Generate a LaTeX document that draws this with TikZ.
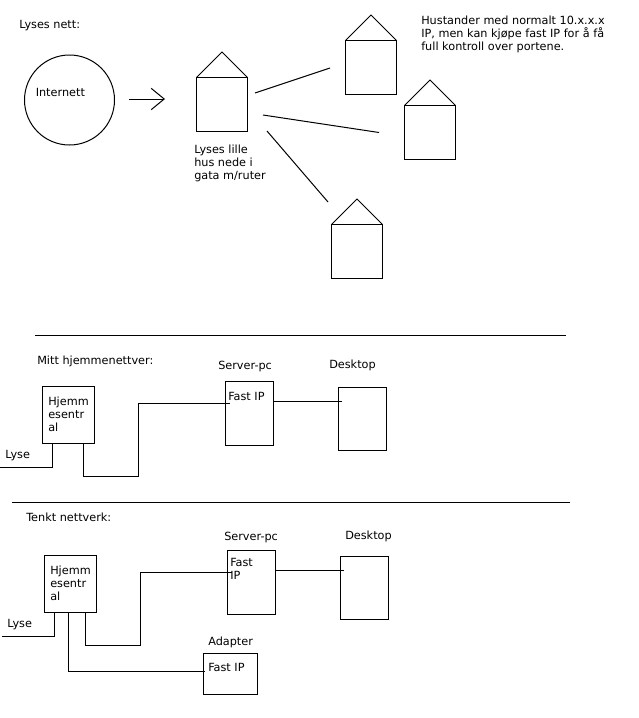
\documentclass[tikz,border=0pt]{standalone}
\usepackage{fontspec}
\setmainfont{DejaVu Sans}
\usetikzlibrary{arrows.meta, positioning}
\tikzset{
    wire/.style={line width=0.75pt, line join=miter},
    pil/.style={wire, -{Straight Barb[length=9.75pt,width=16pt]}},
    tekst/.style={anchor=west, inner sep=0pt, yshift=-1pt, align=left, font=\fontsize{8.45}{9.75}\selectfont},
    boks/.style={rectangle, draw, line width=0.75pt, outer sep=0pt, inner sep=0pt},
    hytte/.style={boks, minimum width=38.25pt, minimum height=40.5pt}
}

\begin{document}
\begin{tikzpicture}[x=0.75pt, y=-0.75pt]
            \useasboundingbox (0,0) rectangle (639,718);

            % Lyses nett
            \node[tekst] (lysesnett) at (19,24) {Lyses nett:};
            \node[boks, circle, minimum size=67.5pt] (internet) at (69.5,100) {};
            \node[tekst] (internetlabel) at (35.5,91) {Internett};

            \foreach \navn/\cx/\cy in {lyshus/222/104.5, husa/371/67.5, husb/430/132.5, husc/357/251.5} {
                \node[hytte] (\navn) at (\cx,\cy) {};
                \draw[wire] (\navn.north west) -- ++(25.5,-25.5) -- (\navn.north east);
            }

            \node[tekst] (lyshuslabel) at (194,162) {Lyses lille\\hus nede i\\gata m/ruter};
            \node[tekst] (huslabel) at (421,33) {Hustander med normalt 10.x.x.x\\IP, men kan kjøpe fast IP for å få\\full kontroll over portene.};

            \coordinate (pilstart) at (129,99);
            \coordinate (pilslutt) at (165,99);
            \draw[pil] (pilstart) -- (pilslutt);

            \coordinate (utA) at (255,93);
            \coordinate (innA) at (330,68);
            \coordinate (utB) at (263,115);
            \coordinate (innB) at (379,132.5);
            \coordinate (utC) at (267,131);
            \coordinate (innC) at (328,202);
            \draw[wire] (utA) -- (innA);
            \draw[wire] (utB) -- (innB);
            \draw[wire] (utC) -- (innC);

            \coordinate (skilleAv) at (35,335);
            \coordinate (skilleAh) at (566,335);
            \coordinate (skilleBv) at (12,502);
            \coordinate (skilleBh) at (570,502);
            \draw[wire] (skilleAv) -- (skilleAh);
            \draw[wire] (skilleBv) -- (skilleBh);

            % Mitt hjemmenettverk
            \node[tekst] (mitt) at (37,360) {Mitt hjemmenettver:};
            \node[tekst] (serverlabelA) at (218,365) {Server-pc};
            \node[tekst] (desktoplabelA) at (329,364) {Desktop};
            \node[boks, minimum width=39pt, minimum height=43pt] (sentralA) at (68.5,415) {};
            \node[tekst] (sentraltekstA) at (48,413) {Hjemm\\esentr\\al};
            \node[boks, minimum width=36pt, minimum height=48pt] (serverA) at (249.5,413.5) {};
            \node[tekst] (fastA) at (228,395) {Fast IP};
            \node[boks, minimum width=36pt, minimum height=47.25pt] (desktopA) at (362.5,419) {};
            \node[tekst] (lyseA) at (5,454) {Lyse};

            \coordinate (inntakA) at (0,467);
            \coordinate (portA) at (230,403);
            \coordinate (portdA) at (342,401);
            \coordinate (portsA) at (273.5,401);
            \draw[wire] (inntakA) -| ([xshift=-12pt]sentralA.south);
            \draw[wire] (sentralA.south west) ++(40.5,0) -- ++(0,33) -- ++(55,0) |- (portA);
            \draw[wire] (portsA) -- (portdA);

            % Tenkt nettverk
            \node[tekst] (tenkt) at (26,516) {Tenkt nettverk:};
            \node[tekst] (serverlabelB) at (224,536) {Server-pc};
            \node[tekst] (desktoplabelB) at (345,535) {Desktop};
            \node[boks, minimum width=39pt, minimum height=43pt] (sentralB) at (70.5,584) {};
            \node[tekst] (sentraltekstB) at (50,582) {Hjemm\\esentr\\al};
            \node[boks, minimum width=36pt, minimum height=48pt] (serverB) at (251.5,582.5) {};
            \node[tekst] (fastB) at (230,567.5) {Fast\\IP};
            \node[boks, minimum width=36pt, minimum height=47.25pt] (desktopB) at (364.5,587.5) {};
            \node[tekst] (lyseB) at (7,623) {Lyse};
            \node[tekst] (adapterlabel) at (208,641) {Adapter};
            \node[boks, minimum width=40.5pt, minimum height=31pt] (adapter) at (230.5,674.25) {};
            \node[tekst] (fastC) at (208,666) {Fast IP};

            \coordinate (inntakB) at (2,636);
            \coordinate (portB) at (232,572);
            \coordinate (portdB) at (344,570);
            \coordinate (portsB) at (275.5,570);
            \coordinate (portC) at (205,671.5);
            \draw[wire] (inntakB) -| ([xshift=-12pt]sentralB.south);
            \draw[wire] (sentralB.south west) ++(40.5,0) -- ++(0,33) -- ++(55,0) |- (portB);
            \draw[wire] (portsB) -- (portdB);
            \draw[wire] (sentralB.south west) ++(24,0) |- (portC);
        \end{tikzpicture}
\end{document}
